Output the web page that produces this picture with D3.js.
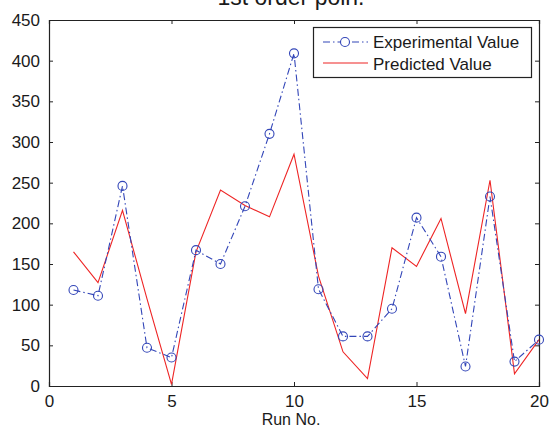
<!DOCTYPE html>
<html>
<head>
<meta charset="utf-8">
<script src="https://cdn.jsdelivr.net/npm/d3@7"></script>
<style>
  html, body { margin: 0; padding: 0; background: #fff; }
  svg { display: block; }
  text { font-family: "Liberation Sans", Arial, sans-serif; fill: #1a1a1a; }
</style>
</head>
<body>
<script>
const runs = [1,2,3,4,5,6,7,8,9,10,11,12,13,14,15,16,17,18,19,20];
const experimental = [118,111,246,47,35,167,150,221,310,409,119,61,61,95,207,159,24,233,30,57];
const predicted = [165,127,216,107,2,165,241,222,208,285,135,42,9,170,147,206,89,253,15,57];
const xTicks = [0,5,10,15,20];
const yTicks = [0,50,100,150,200,250,300,350,400,450];
const seriesNames = ["Experimental Value", "Predicted Value"];
const titleText = "1st order poln.";
const xLabel = "Run No.";

const W = 549, H = 427;
const m = {left: 49, right: 10, top: 20, bottom: 41};
const svg = d3.select("body").append("svg").attr("width", W).attr("height", H);

const x = d3.scaleLinear().domain([0, 20]).range([m.left, W - m.right]);
const y = d3.scaleLinear().domain([0, 450]).range([H - m.bottom, m.top]);

const blue = "#3346b8", red = "#ee2424";
const fs = 17;

// axes with inward ticks
const axB = svg.append("g").attr("transform", `translate(0,${y(0)})`)
  .call(d3.axisBottom(x).tickValues(xTicks).tickSize(-4).tickPadding(9).tickFormat(d3.format("d")));
const axT = svg.append("g").attr("transform", `translate(0,${y(450)})`)
  .call(d3.axisTop(x).tickValues(xTicks).tickSize(-4).tickFormat(""));
const axL = svg.append("g").attr("transform", `translate(${x(0)},0)`)
  .call(d3.axisLeft(y).tickValues(yTicks).tickSize(-4).tickPadding(9).tickFormat(d3.format("d")));
const axR = svg.append("g").attr("transform", `translate(${x(20)},0)`)
  .call(d3.axisRight(y).tickValues(yTicks).tickSize(-4).tickFormat(""));
[axB, axT, axL, axR].forEach(g => {
  g.select(".domain").attr("stroke", "#222").attr("stroke-width", 1.2);
  g.selectAll(".tick line").attr("stroke", "#222");
  g.selectAll("text").style("font-size", fs + "px").attr("fill", "#1a1a1a")
    .style("font-family", '"Liberation Sans", Arial, sans-serif');
});

// title (partially clipped at the top, as in the reference)
svg.append("text").attr("x", 291).attr("y", 5).attr("text-anchor", "middle")
  .style("font-size", "23px").text(titleText);

// x label
svg.append("text").attr("x", 291).attr("y", 425).attr("text-anchor", "middle")
  .style("font-size", "16px").text(xLabel);

const data = runs.map((r, i) => ({r, e: experimental[i], p: predicted[i]}));

// predicted line
svg.append("path").datum(data)
  .attr("fill", "none").attr("stroke", red).attr("stroke-width", 1.1)
  .attr("d", d3.line().x(d => x(d.r)).y(d => y(d.p)));

// experimental dash-dot line
svg.append("path").datum(data)
  .attr("fill", "none").attr("stroke", blue).attr("stroke-width", 1.1)
  .attr("stroke-dasharray", "7,3,1.5,3")
  .attr("d", d3.line().x(d => x(d.r)).y(d => y(d.e)));

svg.append("g").selectAll("circle").data(data).join("circle")
  .attr("cx", d => x(d.r)).attr("cy", d => y(d.e)).attr("r", 4.5)
  .attr("fill", "none").attr("stroke", blue).attr("stroke-width", 1.1);

// legend
const lg = svg.append("g");
lg.append("rect").attr("x", 313.5).attr("y", 27.5).attr("width", 218).attr("height", 50)
  .attr("fill", "#fff").attr("stroke", "#222").attr("stroke-width", 1.2);
lg.append("line").attr("x1", 323).attr("x2", 368).attr("y1", 42).attr("y2", 42)
  .attr("stroke", blue).attr("stroke-width", 1.1).attr("stroke-dasharray", "7,3,1.5,3");
lg.append("circle").attr("cx", 345).attr("cy", 42).attr("r", 4.5)
  .attr("fill", "#fff").attr("stroke", blue).attr("stroke-width", 1.1);
lg.append("line").attr("x1", 323).attr("x2", 368).attr("y1", 63).attr("y2", 63)
  .attr("stroke", red).attr("stroke-width", 1.1);
lg.append("text").attr("x", 373).attr("y", 48).style("font-size", fs + "px").text(seriesNames[0]);
lg.append("text").attr("x", 373).attr("y", 69.5).style("font-size", fs + "px").text(seriesNames[1]);
</script>
</body>
</html>
